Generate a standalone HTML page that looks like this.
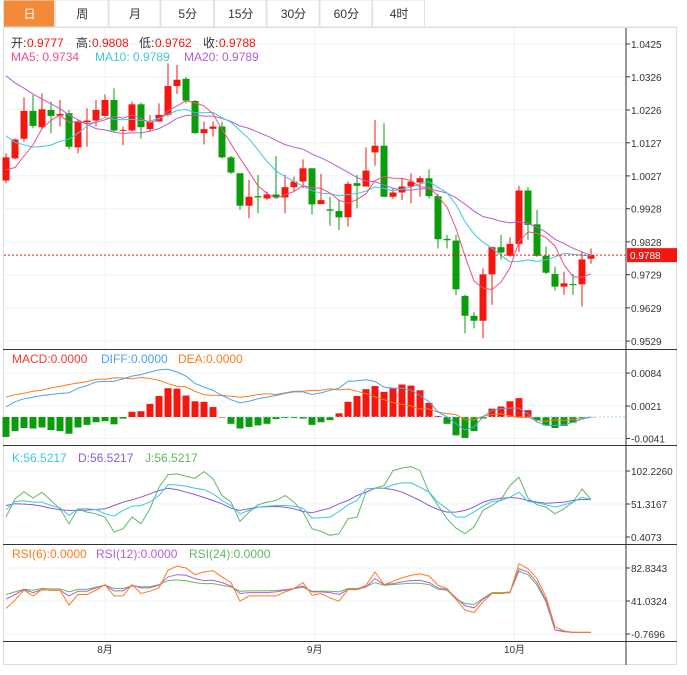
<!DOCTYPE html>
<html><head><meta charset="utf-8"><style>
body{margin:0;background:#fff;width:687px;height:675px;overflow:hidden;font-family:"Liberation Sans","Noto Sans CJK SC",sans-serif}
svg{position:absolute;left:0;top:0}
text{font-family:"Liberation Sans","Noto Sans CJK SC",sans-serif}
</style></head><body>
<svg id="c" width="687" height="675"></svg>
<script>
const opens=[1.0013,1.0080,1.0139,1.0223,1.0174,1.0226,1.0209,1.0216,1.0113,1.0189,1.0194,1.0208,1.0256,1.0163,1.0164,1.0243,1.0168,1.0191,1.0211,1.0298,1.0320,1.0253,1.0156,1.0169,1.0176,1.0083,1.0035,0.9937,0.9966,0.9959,0.9971,0.9962,0.9993,1.0010,1.0050,0.9942,0.9926,0.9921,0.9902,1.0005,0.9995,1.0098,1.0118,0.9964,0.9977,0.9995,1.0007,1.0020,0.9966,0.9837,0.9832,0.9665,0.9605,0.9590,0.9730,0.9812,0.9786,0.9822,0.9983,0.9881,0.9786,0.9731,0.9693,0.9701,0.9700,0.9777];
const closes=[1.0083,1.0137,1.0223,1.0178,1.0228,1.0208,1.0214,1.0115,1.0191,1.0194,1.0226,1.0256,1.0164,1.0166,1.0243,1.0174,1.0190,1.0211,1.0298,1.0317,1.0254,1.0156,1.0168,1.0176,1.0083,1.0037,0.9937,0.9964,0.9962,0.9971,0.9963,0.9993,1.0010,1.0050,0.9941,0.9954,0.9922,0.9902,1.0003,0.9997,1.0043,1.0118,0.9964,0.9977,0.9995,1.0010,1.0020,0.9966,0.9836,0.9833,0.9685,0.9605,0.9590,0.9730,0.9812,0.9796,0.9822,0.9983,0.9879,0.9786,0.9735,0.9693,0.9703,0.9699,0.9775,0.9788];
const highs=[1.0095,1.0140,1.0264,1.0271,1.0276,1.0251,1.0256,1.0226,1.0196,1.0231,1.0256,1.0273,1.0291,1.0176,1.0251,1.0248,1.0211,1.0246,1.0367,1.0362,1.0325,1.0256,1.0191,1.0191,1.0191,1.0087,1.0035,1.0015,1.0030,0.9980,1.0087,1.0030,1.0025,1.0077,1.0050,1.0033,0.9964,0.9954,1.0010,1.0030,1.0113,1.0196,1.0186,0.9990,1.0022,1.0035,1.0027,1.0047,0.9974,0.9849,0.9849,0.9668,0.9617,0.9748,0.9814,0.9849,0.9842,0.9997,0.9993,0.9924,0.9814,0.9753,0.9738,0.9731,0.9798,0.9808];
const lows=[1.0005,1.0077,1.0130,1.0171,1.0171,1.0156,1.0176,1.0107,1.0095,1.0115,1.0176,1.0206,1.0161,1.0120,1.0161,1.0140,1.0161,1.0191,1.0206,1.0274,1.0246,1.0154,1.0122,1.0145,1.0079,1.0033,0.9924,0.9899,0.9914,0.9954,0.9959,0.9914,0.9980,0.9990,0.9911,0.9942,0.9877,0.9864,0.9874,0.9929,0.9995,1.0058,0.9964,0.9957,0.9954,0.9944,0.9964,0.9959,0.9808,0.9808,0.9668,0.9552,0.9567,0.9537,0.9638,0.9775,0.9783,0.9798,0.9834,0.9783,0.9731,0.9681,0.9668,0.9668,0.9633,0.9762];
const priorCloses=[1.056,1.055,1.053,1.052,1.051,1.050,1.049,1.048,1.048,1.048,1.034,1.029,1.025,1.021,1.0165,1.010,1.005,1.001,0.9982];
const macdHist=[-0.0038,-0.0027,-0.0021,-0.0022,-0.0020,-0.0025,-0.0027,-0.0032,-0.0020,-0.0015,-0.0010,-0.0008,-0.0014,-0.0003,0.0010,0.0011,0.0025,0.0040,0.0055,0.0054,0.0041,0.0030,0.0029,0.0019,0,-0.0013,-0.0022,-0.0019,-0.0016,-0.0013,-0.0004,-0.0002,-0.0002,-0.0003,-0.0015,-0.0010,-0.0006,0.0007,0.0029,0.0040,0.0053,0.0059,0.0048,0.0055,0.0062,0.0060,0.0051,0.0027,0.0002,-0.0013,-0.0035,-0.0040,-0.0027,-0.0003,0.0016,0.0020,0.0030,0.0036,0.0013,-0.0006,-0.0016,-0.0021,-0.0017,-0.0011,-0.0002,0];
const diffVals=[0.0019,0.0029,0.0035,0.0038,0.0041,0.0043,0.0045,0.0046,0.0055,0.0060,0.0067,0.0068,0.0068,0.0073,0.0078,0.0081,0.0086,0.0090,0.0091,0.0086,0.0078,0.0064,0.0057,0.0051,0.0041,0.0033,0.0027,0.0030,0.0035,0.0038,0.0041,0.0045,0.0048,0.0048,0.0043,0.0046,0.0051,0.0055,0.0068,0.0069,0.0071,0.0068,0.0057,0.0055,0.0055,0.0051,0.0041,0.0029,0.0010,0.0000,-0.0013,-0.0025,-0.0019,0.0000,0.0013,0.0016,0.0017,0.0017,0.0006,-0.0010,-0.0016,-0.0016,-0.0015,-0.0010,-0.0004,0.0000];
const kVals=[42.4,55.2,56.2,54.2,54.2,49.0,45.5,33.7,43.9,43.9,42.9,36.2,32.7,41.4,48.0,49.0,54.2,64.4,81.3,80.8,78.7,75.7,73.6,67.0,56.7,49.0,36.2,41.4,46.5,48.0,49.0,49.0,48.0,44.9,29.6,30.1,31.1,39.8,50.1,56.7,74.6,75.7,75.7,80.8,83.9,83.9,77.2,69.5,54.2,43.9,31.1,31.1,38.8,48.0,55.2,56.7,61.8,69.5,55.2,53.1,50.1,46.5,50.1,54.2,61.8,58.3];
const dVals=[49.0,51.6,51.1,50.1,48.0,44.9,42.4,41.4,41.4,41.9,42.9,43.9,49.0,54.2,57.7,61.8,67.0,72.1,75.7,73.6,69.5,65.9,61.3,56.7,51.6,44.9,41.4,43.9,46.5,47.0,47.5,46.5,43.9,39.8,37.8,41.4,44.9,51.6,56.7,64.4,69.5,75.7,75.7,73.6,69.5,63.4,56.7,49.0,42.9,38.8,38.8,41.4,46.5,54.2,58.3,60.3,61.3,60.3,56.7,54.2,52.6,53.1,54.2,56.7,58.3,58.3];
const jVals=[31.1,59.3,70.5,60.3,69.5,56.7,43.9,20.9,43.9,38.8,36.2,31.1,8.1,13.2,31.1,20.9,43.9,77.2,96.7,97.7,94.1,91.0,101.3,90.0,64.4,54.2,24.5,38.8,50.1,54.2,56.7,64.4,54.2,38.8,13.2,9.1,3.0,5.5,28.6,31.1,69.5,75.7,79.8,102.8,106.9,108.9,102.8,69.5,49.0,28.6,14.2,5.5,15.8,41.4,49.0,58.3,79.8,92.6,60.3,50.1,46.5,36.2,43.9,54.2,74.6,58.3];
const rsi6=[31.6,42.1,54.7,47.5,55.5,54.7,54.7,35.8,49.2,49.2,54.7,61.8,47.5,47.5,61.8,50.5,53.4,57.6,79.9,85.3,82.8,74.4,77.8,79.5,71.5,64.3,40.8,47.5,47.5,47.5,47.5,52.6,56.8,64.3,48.4,50.5,45.0,40.8,55.5,55.5,61.0,77.8,61.8,66.0,70.2,73.6,75.3,72.7,61.0,56.8,43.3,29.5,26.5,40.0,50.5,50.5,51.7,88.3,82.0,69.4,46.3,8.5,3.0,1.3,1.3,1.3];
const rsi12=[43.3,49.2,55.5,51.7,55.5,54.7,54.7,47.5,53.4,53.4,57.6,61.0,53.8,53.8,61.0,57.6,57.6,61.0,71.5,74.4,73.6,69.4,66.9,67.3,64.3,60.1,50.5,51.7,51.7,51.7,52.6,54.7,56.8,60.1,52.6,52.6,51.7,49.2,55.5,55.5,58.9,69.4,61.8,63.1,65.2,66.9,67.3,64.3,57.6,55.9,45.0,34.9,32.4,43.3,50.5,50.5,51.7,82.0,77.8,64.3,42.1,4.3,2.2,1.3,1.3,1.3];
const rsi24=[49.2,52.6,55.9,54.7,56.8,56.4,56.4,52.6,55.9,55.9,58.4,61.0,56.8,56.8,60.1,58.9,59.3,61.8,66.9,67.7,66.9,64.3,63.1,63.1,61.0,58.9,53.4,53.8,53.8,53.8,54.3,55.5,56.8,58.4,53.4,53.4,53.4,52.6,56.8,56.8,59.3,64.3,61.0,61.8,62.7,63.5,63.5,61.8,55.9,54.7,43.3,37.9,36.6,44.2,51.7,51.7,52.6,78.6,74.4,61.0,40.0,4.3,3.0,1.3,1.3,1.3];
const priceTicks=["1.0425","1.0326","1.0226","1.0127","1.0027","0.9928","0.9828","0.9729","0.9629","0.9529"];
const macdTicks=["0.0084","0.0021","-0.0041"];
const kdjTicks=["102.2260","51.3167","0.4073"];
const rsiTicks=["82.8343","41.0324","-0.7696"];
const monthLabels=["8月","9月","10月"];
const monthIdx=[11,34.3,56.5];
const tabs=["日","周","月","5分","15分","30分","60分","4时"];

const NS="http://www.w3.org/2000/svg",S=document.getElementById('c');
function el(t,a,p){const e=document.createElementNS(NS,t);for(const k in a)e.setAttribute(k,a[k]);(p||S).appendChild(e);return e;}
const xAt=i=>6+9*i;
const py=p=>341-(p-0.9529)*3315;
const my=v=>417-v*5238;
const ky=v=>537-(v-0.4073)*0.6482;
const ry=v=>634-(v+0.7696)*0.7895;
const RED="#f5170f",GRN="#0b9c0b";

let tx=[3.5,55.5,109,161,214.5,267,320,372.7,425.5];
tabs.forEach((t,i)=>{
 const g=el('g',{});
 
 
 el('rect',{x:tx[i],y:0,width:tx[i+1]-tx[i]-1,height:27,fill:i==0?'#f28a3a':'#fff',stroke:'#e3e3e3'},g);
 const tt=el('text',{x:(tx[i]+tx[i+1])/2,y:18,'text-anchor':'middle','font-size':12,fill:i==0?'#fff':'#333'},g);tt.textContent=t;
});
el('line',{x1:425,y1:27,x2:677,y2:27,stroke:'#e3e3e3'});
el('rect',{x:3.5,y:27.5,width:673,height:637,fill:'none',stroke:'#ddd'});
priceTicks.forEach(t=>{const y=py(+t);el('line',{x1:4,x2:626,y1:y,y2:y,stroke:'#eef2f5'});});
[macdTicks.map(t=>my(+t)),kdjTicks.map(t=>ky(+t)),rsiTicks.map(t=>ry(+t))].flat().forEach(y=>el('line',{x1:4,x2:626,y1:y,y2:y,stroke:'#eef2f5'}));
monthIdx.forEach(i=>el('line',{x1:xAt(i),x2:xAt(i),y1:28,y2:641,stroke:'#eef2f5'}));
[349.5,445.5,544.5,641.5].forEach(y=>el('line',{x1:3,x2:677,y1:y,y2:y,stroke:'#333'}));
el('line',{x1:626,x2:626,y1:28,y2:665,stroke:'#333'});
function ticks(arr,fy){arr.forEach(t=>{const y=fy(+t);el('line',{x1:626,x2:630,y1:y,y2:y,stroke:'#333'});const e=el('text',{x:631,y:y+4,'font-size':10,fill:'#333'});e.textContent=t;});}
ticks(priceTicks,py);ticks(macdTicks,my);ticks(kdjTicks,ky);ticks(rsiTicks,ry);
monthLabels.forEach((m,k)=>{const e=el('text',{x:xAt(monthIdx[k]),y:653,'font-size':10,fill:'#333','text-anchor':'middle'});e.textContent=m;});

const cg=el('g',{});
closes.forEach((c,i)=>{
 const o=opens[i],up=c>=o,col=up?RED:GRN,x=xAt(i);
 el('line',{x1:x,x2:x,y1:py(highs[i]),y2:py(lows[i]),stroke:col,'stroke-width':1},cg);
 const top=py(Math.max(o,c)),h=Math.max(1,py(Math.min(o,c))-top);
 const r=el('rect',{x:x-3.5,y:top,width:7,height:h,fill:col},cg);
 
 
});
const all=priorCloses.concat(closes);
function ma(n){return closes.map((c,i)=>{const j=i+priorCloses.length;let s=0;for(let k=j-n+1;k<=j;k++)s+=all[k];return s/n;});}
function line(vals,fy,col,name){const p=el('polyline',{points:vals.map((v,i)=>xAt(i)+','+fy(v).toFixed(1)).join(' '),fill:'none',stroke:col,'stroke-width':1});}
line(ma(20),py,'#b55fd4','ma20-line');line(ma(10),py,'#3cc8e0','ma10-line');line(ma(5),py,'#ef4f86','ma5-line');
const lp=closes[closes.length-1];
el('line',{x1:4,x2:626,y1:py(lp),y2:py(lp),stroke:RED,'stroke-dasharray':'2,2'});
const pb=el('g',{});
el('rect',{x:627,y:py(lp)-7,width:50,height:14,fill:RED},pb);
const pt=el('text',{x:630,y:py(lp)+4,'font-size':10,fill:'#fff'},pb);pt.textContent=lp.toFixed(4);

const mg=el('g',{});
macdHist.forEach((v,i)=>{const y0=my(0),y1=my(v);const r=el('rect',{x:xAt(i)-3.5,y:Math.min(y0,y1),width:7,height:Math.max(0.5,Math.abs(y1-y0)),fill:v>=0?RED:GRN},mg);});
el('line',{x1:xAt(25),x2:626,y1:my(0),y2:my(0),stroke:'#9fd8f0','stroke-dasharray':'2,2'});
const deaVals=diffVals.map((d,i)=>d-macdHist[i]/2);
line(deaVals,my,'#ff7a1a','dea-line');line(diffVals,my,'#4aa3f0','diff-line');
line(jVals,ky,'#62b862','kdj-j-line');line(dVals,ky,'#8a5cd6','kdj-d-line');line(kVals,ky,'#3cc8e0','kdj-k-line');
line(rsi24,ry,'#62b862','rsi24-line');line(rsi12,ry,'#b65fd0','rsi12-line');line(rsi6,ry,'#ff7a1a','rsi6-line');

// legends: [text, color, x]
function legend(y,parts,name){const g=el('g',{});parts.forEach(p=>{const t=el('text',{x:p[2],y:y,'font-size':12,fill:p[1]},g);t.textContent=p[0];});}
legend(47,[["开:","#333",11],["0.9777",RED,27],["高:","#333",76],["0.9808",RED,92],["低:","#333",139],["0.9762",RED,155],["收:","#333",203],["0.9788",RED,219]],'ohlc-legend');
legend(61,[["MA5: 0.9734","#ef4f86",11],["MA10: 0.9789","#3cc8e0",95],["MA20: 0.9789","#b55fd4",184]],'ma-legend');
legend(363,[["MACD:0.0000",'#f03a3a',12],["DIFF:0.0000",'#4aa3f0',101],["DEA:0.0000",'#ff7a1a',178]],'macd-legend');
legend(462,[["K:56.5217",'#3cc8e0',12],["D:56.5217",'#8a5cd6',78],["J:56.5217",'#62b862',145]],'kdj-legend');
legend(558,[["RSI(6):0.0000",'#ff7a1a',12],["RSI(12):0.0000",'#b65fd0',96],["RSI(24):0.0000",'#62b862',189]],'rsi-legend');
</script>
</body></html>
